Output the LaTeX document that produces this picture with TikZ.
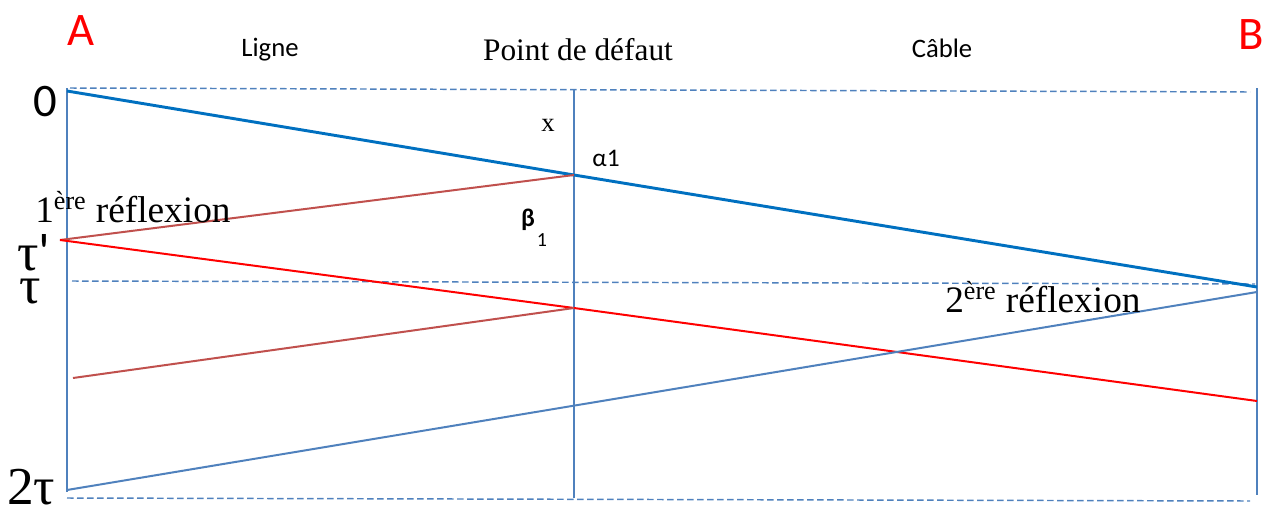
\documentclass[tikz,border=0pt]{standalone}
\usepackage{fontspec}
\setmainfont{Liberation Serif}
\setsansfont{Carlito}
\usetikzlibrary{positioning}
\definecolor{axisblue}{RGB}{79,129,189}
\definecolor{waveblue}{RGB}{0,112,192}
\definecolor{reflbrown}{RGB}{192,80,77}
\definecolor{reflred}{RGB}{255,0,0}

\begin{document}
\begin{tikzpicture}[
  x=0.75pt, y=-0.75pt,
  axis/.style={axisblue, line width=1.3pt},
  level/.style={axisblue, line width=1.1pt, dash pattern=on 5pt off 2.5pt},
  incident/.style={waveblue, line width=2.2pt},
  echo/.style={axisblue, line width=1.5pt},
  backwave/.style={reflbrown, line width=1.5pt},
  redwave/.style={reflred, line width=1.5pt},
  endlabel/.style={text=red, font=\sffamily\fontsize{35}{37}\selectfont, inner sep=0pt},
  zonelabel/.style={font=\sffamily\fontsize{20}{22}\selectfont, inner sep=0pt},
  timelabel/.style={font=\fontsize{40}{42}\selectfont, inner sep=0pt, anchor=base west},
  refllabel/.style={font=\fontsize{28}{30}\selectfont, inner sep=0pt, anchor=base west},
  anglelabel/.style={font=\sffamily\fontsize{19}{21}\selectfont, inner sep=0pt}
]
  \useasboundingbox (0,0) rectangle (1268,511);

  % time axes at A, at the fault and at B
  \coordinate (Atop) at (67,88);
  \coordinate (Abot) at (67,492);
  \coordinate (Ftop) at (574,90);
  \coordinate (Fbot) at (574,498);
  \coordinate (Btop) at (1257,88);
  \coordinate (Bbot) at (1257,495);
  \draw[axis] (Atop) -- (Abot);
  \draw[axis] (Ftop) -- (Fbot);
  \draw[axis] (Btop) -- (Bbot);

  % dashed time levels
  \coordinate (zeroL) at (70,88);
  \coordinate (zeroR) at (1250,92);
  \coordinate (tauL) at (72,281);
  \coordinate (tauR) at (1255,284);
  \coordinate (twotauL) at (67,498);
  \coordinate (twotauR) at (1250,501);
  \draw[level] (zeroL) -- (zeroR);
  \draw[level] (tauL) -- (tauR);
  \draw[level] (twotauL) -- (twotauR);

  % wave paths
  \coordinate (start) at (67,91);
  \coordinate (alpha) at (574,175);
  \coordinate (reachB) at (1257,287);
  \coordinate (tauprime) at (60,240);
  \coordinate (beta) at (574,308);
  \coordinate (backA) at (73,378);
  \coordinate (redB) at (1257,401);
  \coordinate (fromB) at (1257,292);
  \coordinate (endA) at (67,490);
  \draw[incident] (start) -- (alpha) -- (reachB);
  \draw[backwave] (tauprime) -- (alpha);
  \draw[redwave] (tauprime) -- (beta) -- (redB);
  \draw[backwave] (backA) -- (beta);
  \draw[echo] (endA) -- (fromB);

  % labels
  \node[endlabel] (A) at (81,31) {A};
  \node[endlabel] (B) at (1251,35) {B};
  \node[zonelabel] (ligne) at (270,50) {Ligne};
  \node[font=\fontsize{23.5}{25}\selectfont, inner sep=0pt] (defaut) at (578,50) {Point de défaut};
  \node[zonelabel] (cable) at (942,48) {Câble};
  \node[font=\sffamily\fontsize{35}{37}\selectfont, inner sep=0pt] (zero) at (45,102) {0};
  \node[timelabel] (taup) at (17,270) {τ\textsf{\textquotesingle}};
  \node[timelabel] (tau) at (19,303) {τ};
  \node[timelabel] (twotau) at (7,504) {2τ};
  \node[refllabel] (refl1) at (35,222) {1\textsuperscript{ère} réflexion};
  \node[refllabel] (refl2) at (945,312) {2\textsuperscript{ère} réflexion};
  \node[font=\fontsize{20}{22}\selectfont, inner sep=0pt] (x) at (548,125) {x};
  \node[anglelabel] (a1) at (606,158) {α1};
  \node[anglelabel, font=\sffamily\bfseries\fontsize{19}{21}\selectfont] (b1) at (528,220) {β};
  \node[anglelabel, font=\sffamily\fontsize{15}{17}\selectfont] (b1sub) at (542,240) {1};
\end{tikzpicture}
\end{document}
